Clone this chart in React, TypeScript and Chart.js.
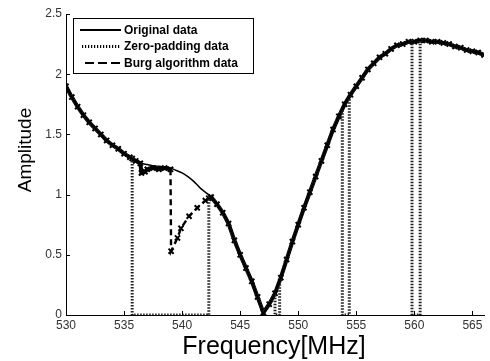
import React, { useEffect, useRef } from "react";
import { Chart, registerables } from "chart.js";

Chart.register(...registerables);

const xTickValues = [530, 535, 540, 545, 550, 555, 560, 565];
const yTickValues = [0, 0.5, 1, 1.5, 2, 2.5];
const xTitle = "Frequency[MHz]";
const yTitle = "Amplitude";
const seriesNames = ["Original data", "Zero-padding data", "Burg algorithm data"];

const originalFreq = [
  530, 530.5, 531, 531.5, 532, 532.5, 533, 533.5, 534, 534.5, 535, 535.5,
  536, 536.5, 537, 537.5, 538, 538.5, 539, 539.5, 540, 540.5, 541, 541.5,
  542, 542.5, 543, 543.5, 544, 544.5, 545, 545.5, 546, 546.5, 547, 547.5,
  548, 548.5, 549, 549.5, 550, 550.5, 551, 551.5, 552, 552.5, 553, 553.5,
  554, 554.5, 555, 555.5, 556, 556.5, 557, 557.5, 558, 558.5, 559, 559.5,
  560, 560.5, 561, 561.5, 562, 562.5, 563, 563.5, 564, 564.5, 565, 565.5, 566,
];
const originalAmp = [
  1.9, 1.81, 1.73, 1.66, 1.6, 1.55, 1.5, 1.45, 1.41, 1.38, 1.34, 1.31,
  1.28, 1.26, 1.25, 1.24, 1.235, 1.23, 1.22, 1.2, 1.18, 1.15, 1.11, 1.06,
  1.02, 0.98, 0.92, 0.85, 0.76, 0.62, 0.5, 0.39, 0.28, 0.15, 0.02, 0.09,
  0.18, 0.31, 0.46, 0.61, 0.75, 0.89, 1.02, 1.15, 1.28, 1.41, 1.54, 1.65,
  1.75, 1.83, 1.9, 1.97, 2.04, 2.09, 2.14, 2.17, 2.21, 2.24, 2.25, 2.27,
  2.27, 2.28, 2.28, 2.27, 2.27, 2.26, 2.25, 2.23, 2.22, 2.2, 2.19, 2.18, 2.16,
];

const zeroPadFreq = [
  530, 530.5, 531, 531.5, 532, 532.5, 533, 533.5, 534, 534.5, 535, 535.5,
  535.7, 535.7, 542.3, 542.3,
  542.5, 543, 543.5, 544, 544.5, 545, 545.5, 546, 546.5, 547, 547.5, 548,
  548, 548.4, 548.4,
  548.5, 549, 549.5, 550, 550.5, 551, 551.5, 552, 552.5, 553, 553.5,
  553.8, 553.8, 554.4, 554.4,
  554.5, 555, 555.5, 556, 556.5, 557, 557.5, 558, 558.5, 559, 559.5,
  559.8, 559.8, 560.5, 560.5,
  561, 561.5, 562, 562.5, 563, 563.5, 564, 564.5, 565, 565.5, 566,
];
const zeroPadAmp = [
  1.9, 1.81, 1.73, 1.66, 1.6, 1.55, 1.5, 1.45, 1.41, 1.38, 1.34, 1.31,
  1.3, 0, 0, 0.99,
  0.98, 0.92, 0.85, 0.76, 0.62, 0.5, 0.39, 0.28, 0.15, 0.02, 0.09, 0.18,
  0, 0, 0.28,
  0.31, 0.46, 0.61, 0.75, 0.89, 1.02, 1.15, 1.28, 1.41, 1.54, 1.65,
  1.71, 0, 0, 1.82,
  1.83, 1.9, 1.97, 2.04, 2.09, 2.14, 2.17, 2.21, 2.24, 2.25, 2.27,
  2.27, 0, 0, 2.28,
  2.28, 2.27, 2.27, 2.26, 2.25, 2.23, 2.22, 2.2, 2.19, 2.18, 2.16,
];

const burgFreq = [
  530, 530.5, 531, 531.5, 532, 532.5, 533, 533.5, 534, 534.5, 535, 535.5,
  535.7, 536, 536.4, 536.5, 536.8, 537, 537.5, 538, 538.5, 539,
  539.05, 539.6, 539.9, 540.6, 541.3, 542, 542.3,
  542.5, 543, 543.5, 544, 544.5, 545, 545.5, 546, 546.5, 547, 547.5,
  548, 548.5, 549, 549.5, 550, 550.5, 551, 551.5, 552, 552.5, 553, 553.5,
  554, 554.5, 555, 555.5, 556, 556.5, 557, 557.5, 558, 558.5, 559, 559.5,
  560, 560.5, 561, 561.5, 562, 562.5, 563, 563.5, 564, 564.5, 565, 565.5, 566,
];
const burgAmp = [
  1.9, 1.81, 1.73, 1.66, 1.6, 1.55, 1.5, 1.45, 1.41, 1.38, 1.34, 1.31,
  1.3, 1.28, 1.26, 1.18, 1.19, 1.21, 1.22, 1.21, 1.22, 1.21,
  0.53, 0.64, 0.72, 0.82, 0.89, 0.95, 0.97,
  0.98, 0.92, 0.85, 0.76, 0.62, 0.5, 0.39, 0.28, 0.15, 0.02, 0.09,
  0.18, 0.31, 0.46, 0.61, 0.75, 0.89, 1.02, 1.15, 1.28, 1.41, 1.54, 1.65,
  1.75, 1.83, 1.9, 1.97, 2.04, 2.09, 2.14, 2.17, 2.21, 2.24, 2.25, 2.27,
  2.27, 2.28, 2.28, 2.27, 2.27, 2.26, 2.25, 2.23, 2.22, 2.2, 2.19, 2.18, 2.16,
];

const zip = (xs: number[], ys: number[]) => xs.map((x, i) => ({ x, y: ys[i] }));

const FONT = "'Liberation Sans', Arial, Helvetica, sans-serif";

const legendStyles = [
  { dash: [] as number[], width: 2, start: 7 },
  { dash: [1.2, 1.8], width: 3, start: 9 },
  { dash: [9, 4], width: 2, start: 12 },
];

const decorPlugin = {
  id: "decor",
  afterDatasetsDraw(chart: any) {
    const ctx = chart.ctx as CanvasRenderingContext2D;
    const { left, top, bottom } = chart.chartArea;
    const xs = chart.scales.x;
    const ys = chart.scales.y;
    ctx.save();
    // inward ticks
    ctx.strokeStyle = "#000";
    ctx.lineWidth = 1;
    ctx.setLineDash([]);
    ctx.beginPath();
    xTickValues.forEach((v) => {
      const px = Math.round(xs.getPixelForValue(v)) + 0.5;
      ctx.moveTo(px, bottom);
      ctx.lineTo(px, bottom - 4);
    });
    yTickValues.forEach((v) => {
      const py = Math.round(ys.getPixelForValue(v)) + 0.5;
      ctx.moveTo(left, py);
      ctx.lineTo(left + 4, py);
    });
    ctx.stroke();

    // legend box
    const bx = left + 7;
    const by = top + 4;
    const bw = 180;
    const bh = 55;
    ctx.fillStyle = "#fff";
    ctx.fillRect(bx, by, bw, bh);
    ctx.strokeStyle = "#000";
    ctx.lineWidth = 1;
    ctx.strokeRect(bx + 0.5, by + 0.5, bw, bh);
    seriesNames.forEach((name, i) => {
      const st = legendStyles[i];
      const y = by + 12 + i * 16.5;
      ctx.beginPath();
      ctx.setLineDash(st.dash);
      ctx.lineWidth = st.width;
      ctx.strokeStyle = "#000";
      ctx.moveTo(bx + st.start, y);
      ctx.lineTo(bx + 48, y);
      ctx.stroke();
      ctx.setLineDash([]);
      ctx.fillStyle = "#000";
      ctx.font = `bold 12px ${FONT}`;
      ctx.textBaseline = "middle";
      ctx.textAlign = "left";
      ctx.fillText(name, bx + 51, y + 0.5);
    });

    // axis titles
    ctx.fillStyle = "#000";
    ctx.font = `25px ${FONT}`;
    ctx.textAlign = "center";
    ctx.textBaseline = "alphabetic";
    ctx.fillText(xTitle, 274, 354);
    ctx.save();
    ctx.translate(31, 150);
    ctx.rotate(-Math.PI / 2);
    ctx.font = `19px ${FONT}`;
    ctx.fillText(yTitle, 0, 0);
    ctx.restore();
    ctx.restore();
  },
};

export default function App() {
  const ref = useRef<HTMLCanvasElement | null>(null);
  useEffect(() => {
    if (!ref.current) return;
    const inGap = (c: any) => c.p0.parsed.x >= 539 && c.p1.parsed.x <= 542.3;
    const chart = new Chart(ref.current, {
      type: "line",
      data: {
        datasets: [
          {
            label: seriesNames[0],
            data: zip(originalFreq, originalAmp),
            borderColor: "#000",
            borderWidth: 1.5,
            pointRadius: 0,
            cubicInterpolationMode: "monotone",
            fill: false,
          },
          {
            label: seriesNames[1],
            data: zip(zeroPadFreq, zeroPadAmp),
            borderColor: "#222",
            borderWidth: 3,
            borderDash: [1.5, 1.5],
            pointRadius: 0,
            tension: 0,
            fill: false,
          },
          {
            label: seriesNames[2],
            data: zip(burgFreq, burgAmp),
            borderColor: "#000",
            borderWidth: 4,
            pointStyle: "crossRot",
            pointRadius: 3.6,
            pointBorderWidth: 2,
            pointBorderColor: "#000",
            pointBackgroundColor: "#000",
            tension: 0,
            fill: false,
            segment: {
              borderDash: (c: any) => (inGap(c) ? [6, 4] : undefined),
              borderWidth: (c: any) => (inGap(c) ? 2.4 : undefined),
            },
          },
        ],
      },
      options: {
        animation: false,
        responsive: false,
        devicePixelRatio: 1,
        layout: { padding: { left: 0, right: 2, top: 14, bottom: 0 } },
        plugins: { legend: { display: false }, tooltip: { enabled: false } },
        scales: {
          x: {
            type: "linear",
            min: 530,
            max: 566,
            grid: { display: false, drawTicks: false },
            border: { display: true, color: "#000", width: 1 },
            afterBuildTicks: (s: any) => {
              s.ticks = xTickValues.map((v) => ({ value: v }));
            },
            afterFit: (s: any) => {
              s.height = 46;
            },
            ticks: {
              color: "#333",
              font: { family: FONT, size: 12 },
              padding: 3,
              maxRotation: 0,
              autoSkip: false,
              callback: (v: any) => String(v),
            },
          },
          y: {
            type: "linear",
            min: 0,
            max: 2.5,
            grid: { display: false, drawTicks: false },
            border: { display: true, color: "#000", width: 1 },
            afterBuildTicks: (s: any) => {
              s.ticks = yTickValues.map((v) => ({ value: v }));
            },
            afterFit: (s: any) => {
              s.width = 66;
            },
            ticks: {
              color: "#333",
              font: { family: FONT, size: 12 },
              padding: 4,
              autoSkip: false,
              callback: (v: any) => String(v),
            },
          },
        },
      },
      plugins: [decorPlugin],
    } as any);
    return () => chart.destroy();
  }, []);
  return (
    <div style={{ position: "fixed", left: 0, top: 0, width: 490, height: 361, background: "#fff" }}>
      <canvas ref={ref} width={490} height={361} style={{ display: "block", width: 490, height: 361 }} />
    </div>
  );
}
